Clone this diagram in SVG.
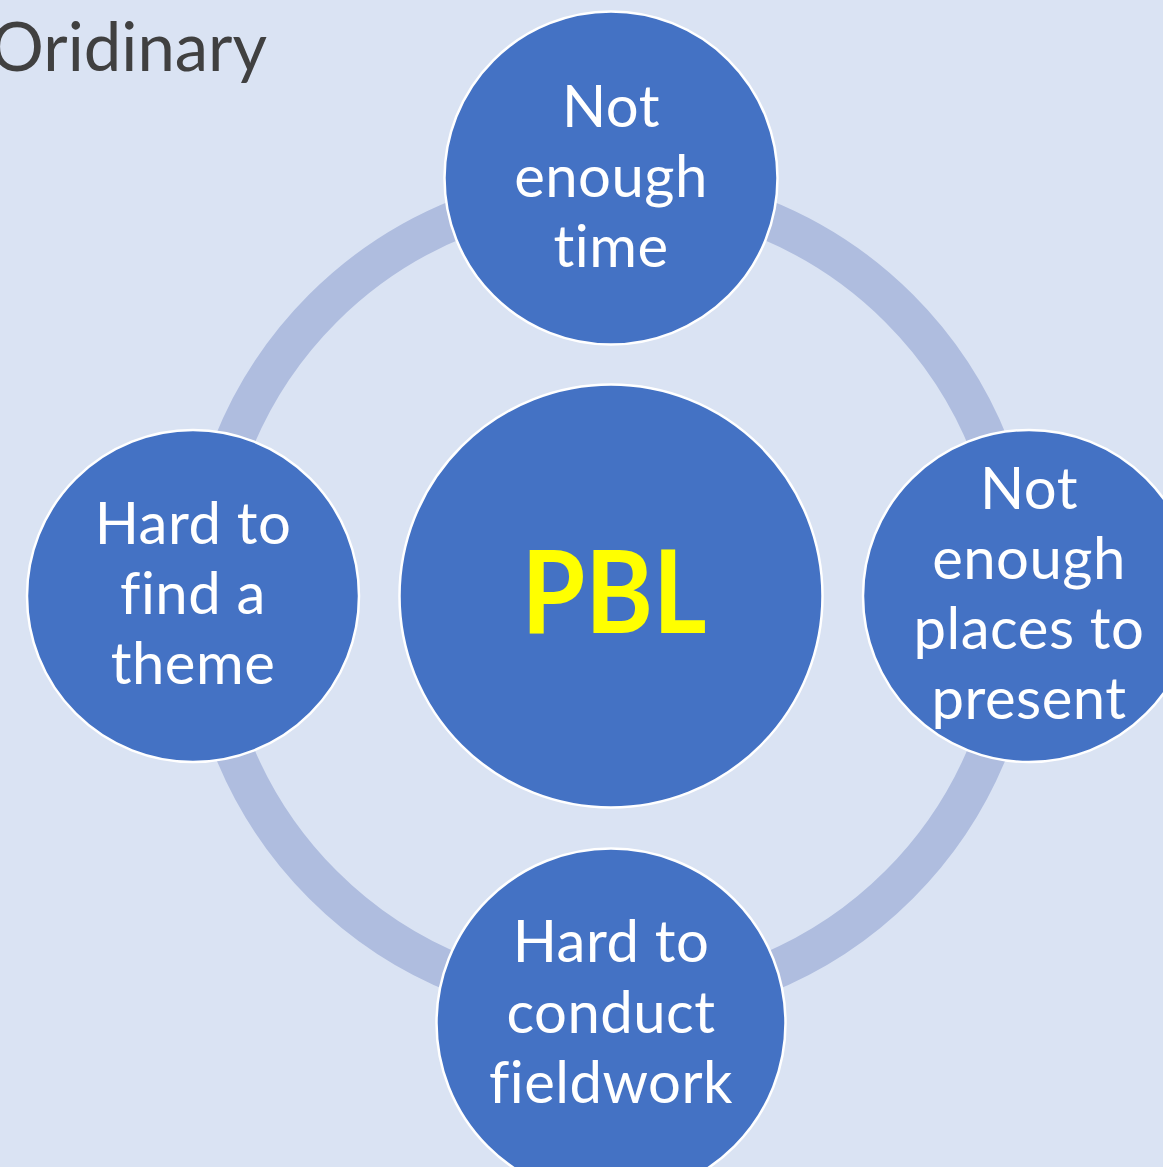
<svg xmlns="http://www.w3.org/2000/svg" width="1163" height="1167" viewBox="0 0 1163 1167">
  <style>
    .bg { fill: #DAE3F3; }
    .ring { fill: none; stroke: #AFBDDF; stroke-width: 39; }
    .node { fill: #4472C4; stroke: #FFFFFF; stroke-width: 2.5; }
    text { font-family: Lato, "Open Sans", "Liberation Sans", sans-serif; font-variant-ligatures: none; }
    .label { font-size: 58px; fill: #FFFFFF; text-anchor: middle; letter-spacing: 0.5px; }
    .hub { font-weight: bold; font-size: 114px; fill: #FFFF00; text-anchor: middle; }
    .title { font-size: 67px; fill: #404040; text-anchor: end; }
  </style>

  <rect class="bg" x="0" y="0" width="1163" height="1167"/>

  <!-- heading runs past the left edge of the page -->
  <text class="title" x="267" y="71">Oridinary</text>

  <!-- circular connector behind the nodes -->
  <g id="connectors">
    <circle class="ring" cx="611" cy="596.5" r="407.5"/>
  </g>

  <g id="node-time">
    <circle class="node" cx="611" cy="178" r="166.5"/>
    <text class="label" x="611" y="127">Not</text>
    <text class="label" x="611" y="197">enough</text>
    <text class="label" x="611" y="267">time</text>
  </g>

  <g id="node-places">
    <circle class="node" cx="1029" cy="596" r="166"/>
    <text class="label" x="1029" y="509">Not</text>
    <text class="label" x="1029" y="579">enough</text>
    <text class="label" x="1029" y="649">places to</text>
    <text class="label" x="1029" y="719">present</text>
  </g>

  <g id="node-fieldwork">
    <circle class="node" cx="611" cy="1023" r="174.5"/>
    <text class="label" x="611" y="962">Hard to</text>
    <text class="label" x="611" y="1033">conduct</text>
    <text class="label" x="611" y="1103">fieldwork</text>
  </g>

  <g id="node-theme">
    <circle class="node" cx="193" cy="596" r="166"/>
    <text class="label" x="193" y="544">Hard to</text>
    <text class="label" x="193" y="614">find a</text>
    <text class="label" x="193" y="684">theme</text>
  </g>

  <g id="node-pbl">
    <circle class="node" cx="611" cy="596" r="211.5"/>
    <text class="hub" x="614" y="633" textLength="185" lengthAdjust="spacingAndGlyphs">PBL</text>
  </g>
</svg>
